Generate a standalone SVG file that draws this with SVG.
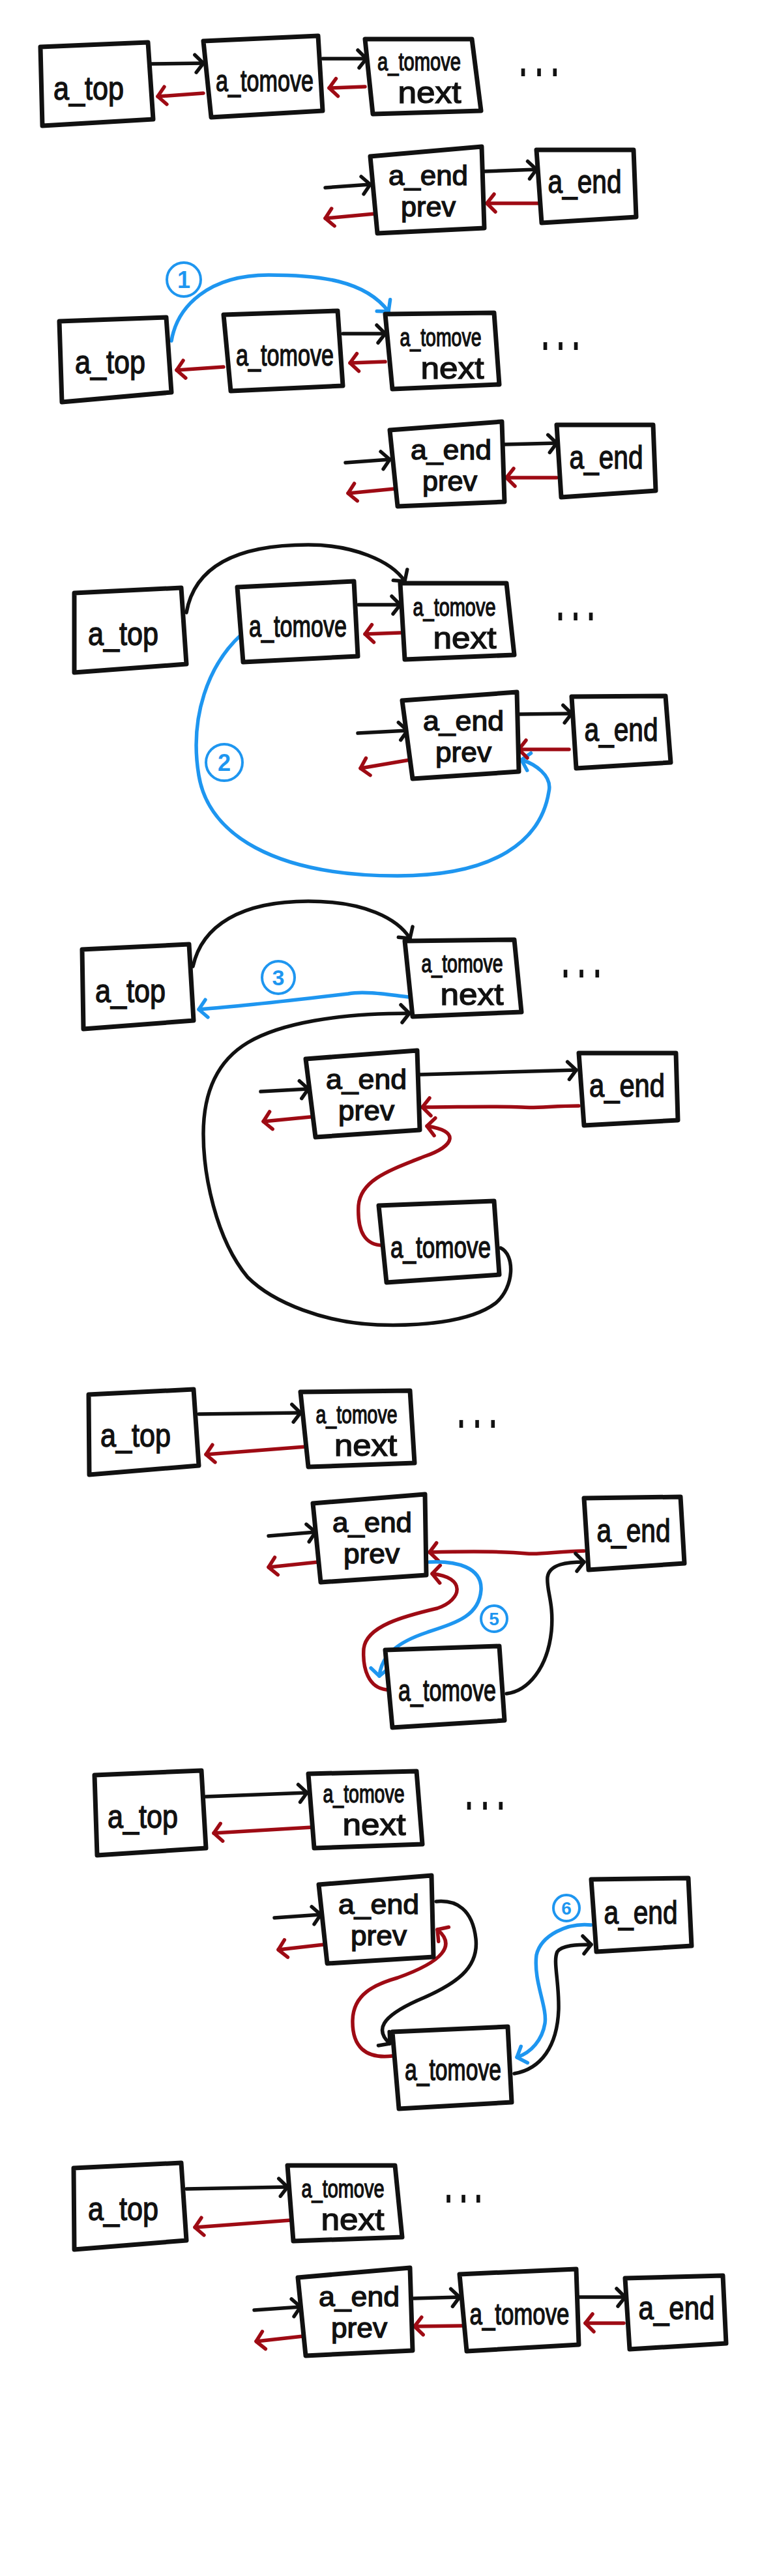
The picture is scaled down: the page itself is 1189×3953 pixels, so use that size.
<svg xmlns="http://www.w3.org/2000/svg" width="1189" height="3953" viewBox="0 0 1189 3953">
<style>
.bx{fill:#fff;stroke:#111;stroke-width:7;stroke-linejoin:round}
.t{font-family:"Liberation Sans","DejaVu Sans",sans-serif;font-weight:normal;fill:#111;stroke:#111;stroke-width:1.4;text-anchor:middle}
.d{font-family:"Liberation Sans","DejaVu Sans",sans-serif;font-weight:bold;fill:#111;text-anchor:middle}
.k{fill:none;stroke:#111;stroke-width:5.5;stroke-linecap:round;marker-end:url(#ak)}
.r{fill:none;stroke:#9e0b14;stroke-width:5.5;stroke-linecap:round;marker-end:url(#ar)}
.b{fill:none;stroke:#1e96f0;stroke-width:5.5;stroke-linecap:round;marker-end:url(#ab)}
.c{fill:none;stroke:#1e96f0;stroke-width:4}
.n{font-family:"Liberation Sans",sans-serif;font-weight:bold;fill:#1e96f0;text-anchor:middle}
</style>
<defs>
<marker id="ak" viewBox="-16 -16 20 32" refX="0" refY="0" markerWidth="20" markerHeight="32" markerUnits="userSpaceOnUse" orient="auto" overflow="visible"><path d="M-13,-13 L0,0 L-11,14" fill="none" stroke="#111" stroke-width="5.5" stroke-linecap="round" stroke-linejoin="round"/></marker>
<marker id="ar" viewBox="-16 -16 20 32" refX="0" refY="0" markerWidth="20" markerHeight="32" markerUnits="userSpaceOnUse" orient="auto" overflow="visible"><path d="M-13,-13 L0,0 L-11,14" fill="none" stroke="#9e0b14" stroke-width="5.5" stroke-linecap="round" stroke-linejoin="round"/></marker>
<marker id="ab" viewBox="-16 -16 20 32" refX="0" refY="0" markerWidth="20" markerHeight="32" markerUnits="userSpaceOnUse" orient="auto" overflow="visible"><path d="M-13,-13 L0,0 L-11,14" fill="none" stroke="#1e96f0" stroke-width="5.5" stroke-linecap="round" stroke-linejoin="round"/></marker>
</defs>
<rect width="1189" height="3953" fill="#fff"/>

<g id="connectors">
<!-- panel 1 -->
<path class="k" d="M232,98 L312,97"/>
<path class="r" d="M312,143 L242,148"/>
<path class="k" d="M495,90 L562,90"/>
<path class="r" d="M560,133 L505,135"/>
<path class="k" d="M499,288 L568,283"/>
<path class="r" d="M575,328 L499,335"/>
<path class="k" d="M743,263 L823,260"/>
<path class="r" d="M827,312 L747,312"/>
<!-- panel 2 -->
<path class="b" d="M263,523 C272,470 320,422 412,422 C490,422 560,430 596,478"/>
<path class="k" d="M526,512 L591,512"/>
<path class="r" d="M591,555 L537,557"/>
<path class="r" d="M343,563 L271,568"/>
<path class="k" d="M530,710 L598,705"/>
<path class="r" d="M606,750 L534,757"/>
<path class="k" d="M774,682 L854,680"/>
<path class="r" d="M854,733 L777,733"/>
<!-- panel 3 -->
<path class="k" d="M286,940 C300,860 380,836 473,836 C540,836 600,860 621,892"/>
<path class="k" d="M550,928 L614,928"/>
<path class="r" d="M614,971 L560,973"/>
<path class="b" d="M370,974 C320,1020 290,1100 305,1190 C320,1280 420,1344 610,1344 C760,1344 830,1290 842,1215 C848,1190 820,1172 800,1166"/>
<path class="k" d="M549,1125 L625,1121"/>
<path class="r" d="M629,1166 L553,1179"/>
<path class="k" d="M796,1096 L877,1095"/>
<path class="r" d="M873,1150 L796,1150"/>
<!-- panel 4 -->
<path class="k" d="M296,1483 C310,1420 370,1383 473,1383 C560,1383 610,1410 629,1440"/>
<path class="b" d="M636,1531 C600,1527 560,1520 534,1525 C450,1535 360,1545 305,1549"/>
<path class="k" d="M768,1915 C790,1925 790,1975 760,2000 C720,2030 640,2035 579,2033 C500,2030 420,2000 380,1960 C330,1900 312,1800 312,1740 C312,1680 330,1630 380,1600 C430,1570 520,1555 628,1555"/>
<path class="k" d="M400,1675 L473,1671"/>
<path class="r" d="M476,1714 L404,1721"/>
<path class="k" d="M644,1649 L884,1642"/>
<path class="r" d="M888,1697 C850,1697 820,1701 800,1699 C760,1697 700,1699 648,1699"/>
<path class="r" d="M590,1911 C560,1912 548,1890 550,1850 C553,1810 600,1795 650,1775 C700,1758 705,1735 655,1728"/>
<!-- panel 5 -->
<path class="k" d="M305,2170 L461,2168"/>
<path class="r" d="M469,2220 L316,2232"/>
<path class="k" d="M412,2357 L484,2351"/>
<path class="r" d="M488,2397 L412,2405"/>
<path class="r" d="M896,2380 C860,2380 830,2386 808,2384 C770,2380 700,2381 659,2382"/>
<path class="k" d="M777,2599 C810,2595 840,2560 846,2503 C850,2460 838,2440 840,2420 C843,2400 870,2397 896,2397"/>
<path class="r" d="M593,2593 C565,2590 556,2560 558,2530 C562,2495 620,2480 671,2468 C710,2455 715,2420 663,2415"/>
<path class="b" d="M659,2397 C700,2395 740,2405 738,2440 C735,2480 700,2490 655,2505 C610,2520 585,2540 582,2572"/>
<!-- panel 6 -->
<path class="k" d="M316,2757 L471,2751"/>
<path class="r" d="M479,2804 L328,2813"/>
<path class="k" d="M421,2943 L492,2938"/>
<path class="r" d="M497,2984 L427,2992"/>
<path class="k" d="M669,2918 C700,2915 725,2930 730,2975 C735,3020 700,3045 640,3070 C585,3095 575,3115 598,3136"/>
<path class="r" d="M602,3155 C560,3160 540,3140 541,3100 C542,3060 575,3045 610,3035 C680,3010 700,2985 671,2961"/>
<path class="k" d="M789,3182 C830,3175 855,3140 857,3084 C858,3040 848,3010 855,2995 C862,2985 885,2984 907,2984"/>
<path class="b" d="M907,2954 C870,2950 830,2970 823,3000 C818,3040 840,3080 836,3105 C832,3130 815,3150 793,3157"/>
<!-- panel 7 -->
<path class="k" d="M286,3359 L441,3356"/>
<path class="r" d="M446,3407 L299,3418"/>
<path class="k" d="M390,3545 L461,3540"/>
<path class="r" d="M465,3585 L393,3593"/>
<path class="k" d="M635,3527 L705,3525"/>
<path class="r" d="M709,3569 L636,3570"/>
<path class="k" d="M888,3525 L959,3525"/>
<path class="r" d="M957,3565 L898,3565"/>
</g>

<g id="step-labels">
<circle class="c" cx="282" cy="429" r="26"/><text class="n" x="282" y="442" font-size="36">1</text>
<circle class="c" cx="344" cy="1170" r="28"/><text class="n" x="344" y="1183" font-size="36">2</text>
<circle class="c" cx="427" cy="1500" r="25"/><text class="n" x="427" y="1512" font-size="34">3</text>
<circle class="c" cx="758" cy="2484" r="20"/><text class="n" x="758" y="2494" font-size="28">5</text>
<circle class="c" cx="869" cy="2928" r="20"/><text class="n" x="869" y="2938" font-size="28">6</text>
</g>

<!-- panel 1 -->
<g id="p1-top"><path class="bx" d="M62,72 L227,65 L235,183 L65,193 Z"/><text class="t" x="136" y="153" font-size="50" textLength="108" lengthAdjust="spacingAndGlyphs">a_top</text></g>
<g id="p1-tomove"><path class="bx" d="M312,63 L488,55 L495,170 L324,180 Z"/><text class="t" x="406" y="140" font-size="46" textLength="150" lengthAdjust="spacingAndGlyphs">a_tomove</text></g>
<g id="p1-next"><path class="bx" d="M560,60 L724,60 L738,170 L572,175 Z"/><text class="t" x="643" y="108" font-size="38" textLength="128" lengthAdjust="spacingAndGlyphs">a_tomove</text><text class="t" x="659" y="158" font-size="46" textLength="97" lengthAdjust="spacingAndGlyphs">next</text></g>
<g id="p1-dots"><text class="d" transform="translate(827,117) scale(1,2)" font-size="40" textLength="60" lengthAdjust="spacing">...</text></g>
<g id="p1-endprev"><path class="bx" d="M568,240 L739,225 L743,350 L579,358 Z"/><text class="t" x="657" y="284" font-size="42" textLength="122" lengthAdjust="spacingAndGlyphs">a_end</text><text class="t" x="657" y="332" font-size="42" textLength="84" lengthAdjust="spacingAndGlyphs">prev</text></g>
<g id="p1-end"><path class="bx" d="M823,230 L972,230 L976,333 L831,342 Z"/><text class="t" x="897" y="296" font-size="50" textLength="113" lengthAdjust="spacingAndGlyphs">a_end</text></g>

<!-- panel 2 -->
<g id="p2-top"><path class="bx" d="M91,493 L255,487 L263,602 L95,617 Z"/><text class="t" x="169" y="573" font-size="50" textLength="108" lengthAdjust="spacingAndGlyphs">a_top</text></g>
<g id="p2-tomove"><path class="bx" d="M343,483 L518,477 L526,592 L354,600 Z"/><text class="t" x="437" y="561" font-size="46" textLength="150" lengthAdjust="spacingAndGlyphs">a_tomove</text></g>
<g id="p2-next"><path class="bx" d="M591,482 L758,480 L766,590 L602,597 Z"/><text class="t" x="676" y="531" font-size="38" textLength="125" lengthAdjust="spacingAndGlyphs">a_tomove</text><text class="t" x="694" y="581" font-size="46" textLength="97" lengthAdjust="spacingAndGlyphs">next</text></g>
<g id="p2-dots"><text class="d" transform="translate(860,537) scale(1,2)" font-size="40" textLength="58" lengthAdjust="spacing">...</text></g>
<g id="p2-endprev"><path class="bx" d="M598,660 L770,647 L774,770 L610,777 Z"/><text class="t" x="692" y="705" font-size="42" textLength="124" lengthAdjust="spacingAndGlyphs">a_end</text><text class="t" x="690" y="753" font-size="42" textLength="84" lengthAdjust="spacingAndGlyphs">prev</text></g>
<g id="p2-end"><path class="bx" d="M854,652 L1002,652 L1006,753 L861,763 Z"/><text class="t" x="930" y="719" font-size="50" textLength="113" lengthAdjust="spacingAndGlyphs">a_end</text></g>

<!-- panel 3 -->
<g id="p3-top"><path class="bx" d="M114,910 L278,902 L286,1019 L114,1032 Z"/><text class="t" x="189" y="990" font-size="50" textLength="108" lengthAdjust="spacingAndGlyphs">a_top</text></g>
<g id="p3-tomove"><path class="bx" d="M364,901 L543,892 L549,1007 L373,1016 Z"/><text class="t" x="457" y="977" font-size="46" textLength="150" lengthAdjust="spacingAndGlyphs">a_tomove</text></g>
<g id="p3-next"><path class="bx" d="M614,895 L777,895 L789,1005 L621,1012 Z"/><text class="t" x="697" y="945" font-size="38" textLength="127" lengthAdjust="spacingAndGlyphs">a_tomove</text><text class="t" x="713" y="995" font-size="46" textLength="97" lengthAdjust="spacingAndGlyphs">next</text></g>
<g id="p3-dots"><text class="d" transform="translate(883,952) scale(1,2)" font-size="40" textLength="58" lengthAdjust="spacing">...</text></g>
<g id="p3-endprev"><path class="bx" d="M617,1075 L793,1062 L796,1184 L633,1195 Z"/><text class="t" x="711" y="1121" font-size="42" textLength="124" lengthAdjust="spacingAndGlyphs">a_end</text><text class="t" x="711" y="1169" font-size="42" textLength="86" lengthAdjust="spacingAndGlyphs">prev</text></g>
<g id="p3-end"><path class="bx" d="M877,1069 L1021,1068 L1029,1170 L884,1179 Z"/><text class="t" x="953" y="1137" font-size="50" textLength="113" lengthAdjust="spacingAndGlyphs">a_end</text></g>

<!-- panel 4 -->
<g id="p4-top"><path class="bx" d="M126,1457 L290,1449 L297,1566 L128,1579 Z"/><text class="t" x="200" y="1538" font-size="50" textLength="108" lengthAdjust="spacingAndGlyphs">a_top</text></g>
<g id="p4-next"><path class="bx" d="M621,1444 L789,1442 L800,1553 L633,1560 Z"/><text class="t" x="709" y="1492" font-size="38" textLength="125" lengthAdjust="spacingAndGlyphs">a_tomove</text><text class="t" x="724" y="1542" font-size="46" textLength="97" lengthAdjust="spacingAndGlyphs">next</text></g>
<g id="p4-dots"><text class="d" transform="translate(892,1500) scale(1,2)" font-size="40" textLength="60" lengthAdjust="spacing">...</text></g>
<g id="p4-endprev"><path class="bx" d="M469,1625 L640,1612 L644,1734 L484,1745 Z"/><text class="t" x="562" y="1671" font-size="42" textLength="124" lengthAdjust="spacingAndGlyphs">a_end</text><text class="t" x="562" y="1719" font-size="42" textLength="86" lengthAdjust="spacingAndGlyphs">prev</text></g>
<g id="p4-end"><path class="bx" d="M888,1616 L1037,1616 L1040,1719 L896,1727 Z"/><text class="t" x="962" y="1683" font-size="50" textLength="116" lengthAdjust="spacingAndGlyphs">a_end</text></g>
<g id="p4-tomove"><path class="bx" d="M581,1850 L758,1843 L766,1956 L593,1968 Z"/><text class="t" x="676" y="1930" font-size="46" textLength="154" lengthAdjust="spacingAndGlyphs">a_tomove</text></g>

<!-- panel 5 -->
<g id="p5-top"><path class="bx" d="M136,2140 L297,2132 L305,2249 L137,2263 Z"/><text class="t" x="208" y="2220" font-size="50" textLength="108" lengthAdjust="spacingAndGlyphs">a_top</text></g>
<g id="p5-next"><path class="bx" d="M461,2136 L629,2134 L636,2245 L473,2251 Z"/><text class="t" x="547" y="2184" font-size="38" textLength="125" lengthAdjust="spacingAndGlyphs">a_tomove</text><text class="t" x="561" y="2234" font-size="46" textLength="96" lengthAdjust="spacingAndGlyphs">next</text></g>
<g id="p5-dots"><text class="d" transform="translate(732,2191) scale(1,2)" font-size="40" textLength="60" lengthAdjust="spacing">...</text></g>
<g id="p5-endprev"><path class="bx" d="M480,2307 L652,2293 L654,2417 L492,2428 Z"/><text class="t" x="571" y="2351" font-size="42" textLength="122" lengthAdjust="spacingAndGlyphs">a_end</text><text class="t" x="570" y="2399" font-size="42" textLength="86" lengthAdjust="spacingAndGlyphs">prev</text></g>
<g id="p5-end"><path class="bx" d="M896,2299 L1044,2297 L1050,2399 L903,2409 Z"/><text class="t" x="972" y="2366" font-size="50" textLength="113" lengthAdjust="spacingAndGlyphs">a_end</text></g>
<g id="p5-tomove"><path class="bx" d="M591,2532 L766,2526 L774,2640 L602,2651 Z"/><text class="t" x="686" y="2610" font-size="46" textLength="150" lengthAdjust="spacingAndGlyphs">a_tomove</text></g>

<!-- panel 6 -->
<g id="p6-top"><path class="bx" d="M145,2724 L309,2717 L316,2836 L149,2847 Z"/><text class="t" x="219" y="2805" font-size="50" textLength="108" lengthAdjust="spacingAndGlyphs">a_top</text></g>
<g id="p6-next"><path class="bx" d="M473,2722 L639,2718 L648,2830 L482,2836 Z"/><text class="t" x="558" y="2766" font-size="38" textLength="125" lengthAdjust="spacingAndGlyphs">a_tomove</text><text class="t" x="574" y="2816" font-size="46" textLength="97" lengthAdjust="spacingAndGlyphs">next</text></g>
<g id="p6-dots"><text class="d" transform="translate(744,2777) scale(1,2)" font-size="40" textLength="60" lengthAdjust="spacing">...</text></g>
<g id="p6-endprev"><path class="bx" d="M489,2892 L662,2878 L665,3003 L502,3013 Z"/><text class="t" x="581" y="2937" font-size="42" textLength="124" lengthAdjust="spacingAndGlyphs">a_end</text><text class="t" x="581" y="2985" font-size="42" textLength="86" lengthAdjust="spacingAndGlyphs">prev</text></g>
<g id="p6-end"><path class="bx" d="M907,2884 L1056,2882 L1061,2986 L915,2995 Z"/><text class="t" x="983" y="2952" font-size="50" textLength="113" lengthAdjust="spacingAndGlyphs">a_end</text></g>
<g id="p6-tomove"><path class="bx" d="M602,3118 L779,3110 L785,3226 L612,3236 Z"/><text class="t" x="695" y="3192" font-size="46" textLength="148" lengthAdjust="spacingAndGlyphs">a_tomove</text></g>

<!-- panel 7 -->
<g id="p7-top"><path class="bx" d="M113,3327 L278,3319 L286,3438 L114,3452 Z"/><text class="t" x="189" y="3407" font-size="50" textLength="108" lengthAdjust="spacingAndGlyphs">a_top</text></g>
<g id="p7-next"><path class="bx" d="M441,3323 L606,3323 L617,3433 L450,3439 Z"/><text class="t" x="526" y="3372" font-size="38" textLength="127" lengthAdjust="spacingAndGlyphs">a_tomove</text><text class="t" x="541" y="3422" font-size="46" textLength="97" lengthAdjust="spacingAndGlyphs">next</text></g>
<g id="p7-dots"><text class="d" transform="translate(711,3380) scale(1,2)" font-size="40" textLength="57" lengthAdjust="spacing">...</text></g>
<g id="p7-endprev"><path class="bx" d="M457,3495 L629,3480 L633,3607 L469,3615 Z"/><text class="t" x="551" y="3539" font-size="42" textLength="124" lengthAdjust="spacingAndGlyphs">a_end</text><text class="t" x="551" y="3587" font-size="42" textLength="86" lengthAdjust="spacingAndGlyphs">prev</text></g>
<g id="p7-tomove"><path class="bx" d="M705,3490 L884,3482 L888,3598 L716,3608 Z"/><text class="t" x="797" y="3567" font-size="46" textLength="153" lengthAdjust="spacingAndGlyphs">a_tomove</text></g>
<g id="p7-end"><path class="bx" d="M959,3496 L1109,3492 L1114,3596 L966,3605 Z"/><text class="t" x="1038" y="3559" font-size="50" textLength="117" lengthAdjust="spacingAndGlyphs">a_end</text></g>
</svg>
